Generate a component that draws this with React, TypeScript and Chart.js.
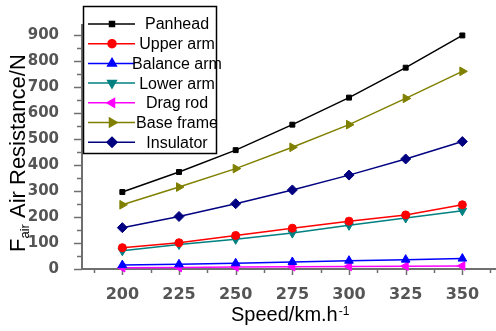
import React, { useEffect, useRef } from 'react';
import { Chart, registerables } from 'chart.js';

Chart.register(...registerables);

const speeds = [200, 225, 250, 275, 300, 325, 350];
const panhead = [296, 373, 457, 555, 659, 774, 898];
const upperArm = [82, 101, 129, 157, 184, 208, 247];
const balanceArm = [15, 18, 22, 27, 32, 36, 40];
const lowerArm = [70, 94, 114, 138, 168, 196, 224];
const dragRod = [5, 6, 8, 9, 10, 11, 12];
const baseFrame = [247, 315, 386, 468, 555, 656, 760];
const insulator = [159, 202, 251, 304, 361, 423, 490];

const xTicks = [200, 225, 250, 275, 300, 325, 350];
const xMinorTicks = [187.5, 212.5, 237.5, 262.5, 287.5, 312.5, 337.5, 362];
const yTicks = [0, 100, 200, 300, 400, 500, 600, 700, 800, 900];
const yMinorTicks = [50, 150, 250, 350, 450, 550, 650, 750, 850];

const seriesNames = ['Panhead', 'Upper arm', 'Balance arm', 'Lower arm', 'Drag rod', 'Base frame', 'Insulator'];
const seriesValues = [panhead, upperArm, balanceArm, lowerArm, dragRod, baseFrame, insulator];
const seriesColors = ['#000000', '#ff0000', '#0000ff', '#008080', '#ff00ff', '#808000', '#000080'];
const seriesStyles = ['rect', 'circle', 'triangle', 'triangle', 'triangle', 'triangle', 'rectRot'];
const seriesRotations = [0, 0, 0, 180, 270, 90, 0];
const seriesRadius = [3.5, 4, 5, 5, 5, 5, 5];

const AXIS_COLOR = '#6f6f6f';

function drawMarker(ctx: CanvasRenderingContext2D, style: string, rot: number, r: number, x: number, y: number, color: string) {
  ctx.save();
  ctx.fillStyle = color;
  ctx.strokeStyle = color;
  ctx.translate(x, y);
  ctx.rotate((rot * Math.PI) / 180);
  ctx.beginPath();
  if (style === 'rect') {
    const s = r * Math.SQRT1_2;
    ctx.rect(-s, -s, 2 * s, 2 * s);
  } else if (style === 'circle') {
    ctx.arc(0, 0, r, 0, Math.PI * 2);
  } else if (style === 'rectRot') {
    ctx.moveTo(0, -r);
    ctx.lineTo(r, 0);
    ctx.lineTo(0, r);
    ctx.lineTo(-r, 0);
    ctx.closePath();
  } else {
    for (let k = 0; k < 3; k++) {
      const a = -Math.PI / 2 + (k * 2 * Math.PI) / 3;
      const px = Math.cos(a) * r;
      const py = Math.sin(a) * r;
      if (k === 0) ctx.moveTo(px, py);
      else ctx.lineTo(px, py);
    }
    ctx.closePath();
  }
  ctx.fill();
  ctx.stroke();
  ctx.restore();
}

const decorPlugin = {
  id: 'decor',
  beforeDatasetsDraw(chart: any) {
    const ctx: CanvasRenderingContext2D = chart.ctx;
    const xs = chart.scales.x;
    const ys = chart.scales.y;
    const left = chart.chartArea.left;
    const bottom = chart.chartArea.bottom;
    ctx.save();
    ctx.strokeStyle = AXIS_COLOR;
    ctx.lineWidth = 2;
    ctx.beginPath();
    ctx.moveTo(left, chart.chartArea.top);
    ctx.lineTo(left, bottom);
    ctx.lineTo(chart.width, bottom);
    ctx.stroke();
    ctx.lineWidth = 1.5;
    ctx.beginPath();
    yTicks.forEach((v) => {
      const p = Math.round(ys.getPixelForValue(v)) + 0.5;
      ctx.moveTo(left - 8, p);
      ctx.lineTo(left, p);
    });
    yMinorTicks.forEach((v) => {
      const p = Math.round(ys.getPixelForValue(v)) + 0.5;
      ctx.moveTo(left - 5, p);
      ctx.lineTo(left, p);
    });
    xTicks.forEach((v) => {
      const p = Math.round(xs.getPixelForValue(v)) + 0.5;
      ctx.moveTo(p, bottom);
      ctx.lineTo(p, bottom + 6);
    });
    xMinorTicks.forEach((v) => {
      const p = Math.round(xs.getPixelForValue(v)) + 0.5;
      ctx.moveTo(p, bottom);
      ctx.lineTo(p, bottom + 4);
    });
    ctx.stroke();
    ctx.restore();
  },
  afterDraw(chart: any) {
    const ctx: CanvasRenderingContext2D = chart.ctx;
    ctx.save();
    // legend box
    ctx.fillStyle = '#ffffff';
    ctx.fillRect(83, 6, 133, 147);
    ctx.strokeStyle = '#000000';
    ctx.lineWidth = 1.5;
    ctx.strokeRect(83.5, 6.5, 133, 147);
    ctx.font = '16px "Liberation Sans", Arial, sans-serif';
    ctx.textAlign = 'center';
    ctx.textBaseline = 'middle';
    seriesNames.forEach((name, i) => {
      const y = 24 + i * 19.7;
      ctx.strokeStyle = seriesColors[i];
      ctx.lineWidth = 1.5;
      ctx.beginPath();
      ctx.moveTo(88, y);
      ctx.lineTo(135, y);
      ctx.stroke();
      drawMarker(ctx, seriesStyles[i], seriesRotations[i], seriesRadius[i], 112, y, seriesColors[i]);
      ctx.fillStyle = '#000000';
      ctx.fillText(name, 177, y + 1);
    });

    // x title
    ctx.textAlign = 'left';
    ctx.textBaseline = 'alphabetic';
    ctx.fillStyle = '#000000';
    ctx.font = '20px "Liberation Sans", Arial, sans-serif';
    const xt = 'Speed/km.h';
    ctx.fillText(xt, 231, 321);
    const xw = ctx.measureText(xt).width;
    ctx.font = '12px "Liberation Sans", Arial, sans-serif';
    ctx.fillText('-1', 231 + xw + 1, 315);

    // y title
    ctx.translate(25, 252);
    ctx.rotate(-Math.PI / 2);
    ctx.font = '22px "Liberation Sans", Arial, sans-serif';
    ctx.fillText('F', 0, 0);
    let off = ctx.measureText('F').width;
    ctx.font = '13px "Liberation Sans", Arial, sans-serif';
    ctx.fillText('air', off, 4);
    off += ctx.measureText('air').width;
    ctx.font = '22px "Liberation Sans", Arial, sans-serif';
    ctx.fillText(' Air Resistance/N', off, 0);
    ctx.restore();
  },
};

export default function App() {
  const canvasRef = useRef<HTMLCanvasElement | null>(null);

  useEffect(() => {
    const canvas = canvasRef.current;
    if (!canvas) return;
    const chart = new Chart(canvas, {
      type: 'line',
      data: {
        datasets: seriesNames.map((name, i) => ({
          label: name,
          data: speeds.map((s, j) => ({ x: s, y: seriesValues[i][j] })),
          borderColor: seriesColors[i],
          backgroundColor: seriesColors[i],
          pointBackgroundColor: seriesColors[i],
          pointBorderColor: seriesColors[i],
          pointStyle: seriesStyles[i] as any,
          rotation: seriesRotations[i],
          pointRadius: seriesRadius[i],
          pointBorderWidth: 1,
          borderWidth: 1.5,
          tension: 0,
          clip: false as any,
        })),
      },
      options: {
        animation: false,
        responsive: false,
        devicePixelRatio: 1,
        layout: { padding: { top: 12, left: 0, right: 0, bottom: 0 } },
        plugins: {
          legend: { display: false },
          tooltip: { enabled: false },
          title: { display: false },
        },
        scales: {
          x: {
            type: 'linear',
            min: 182.2,
            max: 362.2,
            grid: { display: false },
            border: { display: false },
            afterBuildTicks: (s: any) => {
              s.ticks = xTicks.map((v) => ({ value: v }));
            },
            afterFit: (s: any) => {
              s.height = 62;
            },
            ticks: {
              autoSkip: false,
              maxRotation: 0,
              padding: 8,
              color: '#555555',
              font: { family: '"DejaVu Sans", sans-serif', size: 16, weight: 'bold' },
            },
          },
          y: {
            type: 'linear',
            min: 0,
            max: 942,
            grid: { display: false },
            border: { display: false },
            afterBuildTicks: (s: any) => {
              s.ticks = yTicks.map((v) => ({ value: v }));
            },
            afterFit: (s: any) => {
              s.width = 82;
            },
            ticks: {
              autoSkip: false,
              padding: 15,
              color: '#555555',
              font: { family: '"DejaVu Sans", sans-serif', size: 15, weight: 'bold' },
            },
          },
        },
      } as any,
      plugins: [decorPlugin],
    });
    return () => chart.destroy();
  }, []);

  return (
    <div style={{ position: 'absolute', left: 0, top: 0, width: 496, height: 331, background: '#fff' }}>
      <canvas ref={canvasRef} width={496} height={331} style={{ display: 'block', width: 496, height: 331 }} />
    </div>
  );
}
